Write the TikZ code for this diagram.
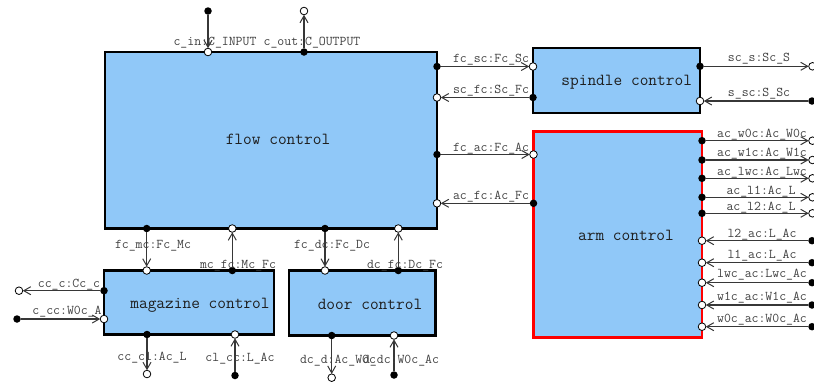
\documentclass[tikz,border=0pt]{standalone}
\usepackage{fontspec}
\usetikzlibrary{arrows.meta}
\definecolor{boxfill}{RGB}{144,200,248}
\definecolor{lblc}{RGB}{64,64,64}
\definecolor{linec}{RGB}{55,55,55}
\definecolor{titlec}{RGB}{30,30,30}
\begin{document}
\begin{tikzpicture}[x=1pt,y=-1pt,
  blk/.style={draw=black, line width=2.2pt, fill=boxfill, outer sep=0pt, inner sep=0pt, anchor=north west},
  title/.style={font=\ttfamily\fontsize{16.9}{17}\selectfont, text=titlec, anchor=base, inner sep=0pt},
  lbl/.style={font=\ttfamily\fontsize{13.4}{14}\selectfont, text=lblc, anchor=base, inner sep=0pt},
  bp/.style={circle, fill=black, inner sep=0pt, minimum size=7.5pt, outer sep=0pt},
  wp/.style={circle, draw=black, fill=white, line width=0.8pt, inner sep=0pt, minimum size=7.6pt, outer sep=0pt},
  conn/.style={draw=linec, line width=1.1pt, -{Straight Barb[length=7pt,width=8pt,line width=1pt]}}]
\useasboundingbox (0,0) rectangle (814,384);
% blocks
\node[blk, minimum width=332pt, minimum height=176.5pt] (flow) at (105,52) {};
\node[blk, minimum width=167pt, minimum height=65pt] (spindle) at (533,48) {};
\node[blk, draw=red, minimum width=168.5pt, minimum height=206pt] (arm) at (533.5,131.5) {};
\node[blk, minimum width=170pt, minimum height=64pt] (magazine) at (104,270.5) {};
\node[blk, minimum width=146.5pt, minimum height=65pt] (door) at (289,270.5) {};
% titles
\node[title] (tflow) at (278,144.3) {flow control};
\node[title] (tspindle) at (626.7,85.7) {spindle control};
\node[title] (tarm) at (626,240.3) {arm control};
\node[title] (tmag) at (200,308.3) {magazine control};
\node[title] (tdoor) at (370,309.3) {door control};
% connectors: name / black port / white port / label
\foreach \n/\bx/\by/\wx/\wy/\lx/\ly/\t in {
  cin/208/11/208/52/215/45/c\_in:C\_INPUT,
  cout/304/52/304/11/312/45/c\_out:C\_OUTPUT,
  fcsc/437/66.5/533/66.5/491/62/fc\_sc:Fc\_Sc,
  scfc/533/97.5/437/97.5/491/93/sc\_fc:Sc\_Fc,
  fcac/437/154.5/533.5/154.5/491/151/fc\_ac:Fc\_Ac,
  acfc/533.5/203.3/437/203.3/491/199/ac\_fc:Ac\_Fc,
  scs/700/66.3/812.5/66.3/759/61/sc\_s:Sc\_S,
  ssc/812/101/700/101/759/96/s\_sc:S\_Sc,
  acwa/702/140.7/812.5/140.7/762/137/ac\_w0c:Ac\_W0c,
  acwb/702/160/812.5/160/762/156/ac\_w1c:Ac\_W1c,
  aclw/702/178.3/812.5/178.3/762/175/ac\_lwc:Ac\_Lwc,
  acla/702/197.3/812.5/197.3/761/194/ac\_l1:Ac\_L,
  aclb/702/213.3/812.5/213.3/761/210/ac\_l2:Ac\_L,
  lbac/812/240.7/702/240.7/762/237/l2\_ac:L\_Ac,
  laac/812/262.7/702/262.7/762/258/l1\_ac:L\_Ac,
  lwac/812/282.7/702/282.7/762/277/lwc\_ac:Lwc\_Ac,
  wbac/812/305/702/305/762/300/w1c\_ac:W1c\_Ac,
  waac/812/326.7/702/326.7/762/322/w0c\_ac:W0c\_Ac,
  fcmc/146.7/228.5/146.7/270.5/153/248.7/fc\_mc:Fc\_Mc,
  mcfc/232.3/270.5/232.3/228.5/238/268.7/mc\_fc:Mc\_Fc,
  fcdc/325/228.5/325/270.5/332/248.7/fc\_dc:Fc\_Dc,
  dcfc/398.3/270.5/398.3/228.5/405/268.7/dc\_fc:Dc\_Fc,
  ccc/104/290.7/19/290.7/69/287/cc\_c:Cc\_c,
  ccw/17/319/104/319/67/314.7/c\_cc:W0c\_A,
  cccl/147/334.5/147/374/152/360.7/cc\_cl:Ac\_L,
  clcc/235/375.5/235/334.5/240/361/cl\_cc:L\_Ac,
  dcd/331.7/335.5/331.7/377.7/338/363/dc\_d:Ac\_W0c,
  ddc/394/375/394/335.5/401/363/d\_dc:W0c\_Ac}{
  \node[bp] (\n-b) at (\bx,\by) {};
  \node[wp] (\n-w) at (\wx,\wy) {};
  \draw[conn] (\n-b) -- (\n-w);
  \node[lbl] (\n-l) at (\lx,\ly) {\t};
}
\end{tikzpicture}
\end{document}
